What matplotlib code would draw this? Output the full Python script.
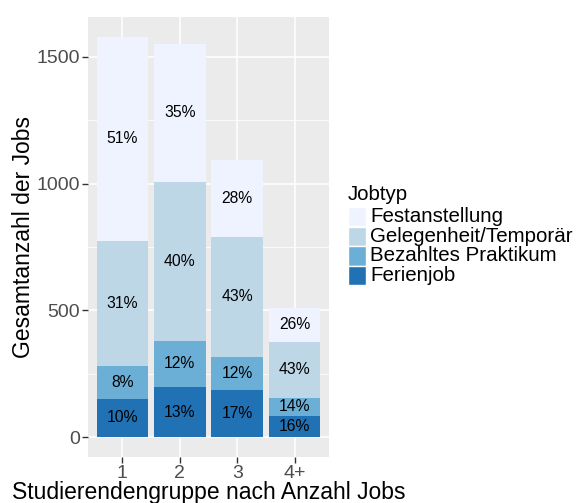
import matplotlib
matplotlib.use("Agg")
import matplotlib.pyplot as plt
from matplotlib.patches import Rectangle
import numpy as np

groups = ["1", "2", "3", "4+"]
job_types = ["Ferienjob", "Bezahltes Praktikum", "Gelegenheit/Temporär", "Festanstellung"]
ferienjob = [150, 197, 186, 83]
praktikum = [130, 183, 130, 71]
gelegenheit = [495, 627, 474, 221]
festanstellung = [803, 544, 302, 134]
colors = ["#2171B5", "#6BAED6", "#BDD7E7", "#EFF3FF"]

plt.rcParams["font.family"] = ["Liberation Sans", "DejaVu Sans"]

W, H = 579, 503
fig = plt.figure(figsize=(W / 100, H / 100), dpi=100)
ax = fig.add_axes([88 / W, 46 / H, 241 / W, 440 / H])
ax.set_facecolor("#EBEBEB")

series = [ferienjob, praktikum, gelegenheit, festanstellung]
x = np.arange(1, len(groups) + 1)
totals = np.sum(series, axis=0)
bottom = np.zeros(len(groups))
for vals, col in zip(series, colors):
    vals = np.array(vals, dtype=float)
    ax.bar(x, vals, bottom=bottom, width=0.9, color=col, linewidth=0, zorder=3)
    for xi, b, v, t in zip(x, bottom, vals, totals):
        ax.text(xi, b + v / 2, "{:.0f}%".format(100 * v / t), ha="center",
                va="center", fontsize=11.3, color="black", zorder=4)
    bottom += vals

ymax = totals.max()
ax.set_xlim(0.4, len(groups) + 0.6)
ax.set_ylim(-0.05 * ymax, 1.05 * ymax)
ax.set_xticks(x)
ax.set_xticklabels(groups)
ax.set_yticks([0, 500, 1000, 1500])
ax.set_yticks([250, 750, 1250], minor=True)
ax.grid(True, which="major", color="white", linewidth=1.1, zorder=0)
ax.grid(True, which="minor", axis="y", color="white", linewidth=0.55, zorder=0)
ax.set_axisbelow(True)
for s in ax.spines.values():
    s.set_visible(False)
ax.tick_params(which="major", length=4, width=1, color="#333333",
               labelsize=14, labelcolor="#4D4D4D", pad=2)
ax.tick_params(which="minor", length=0)

ax.set_xlabel("Studierendengruppe nach Anzahl Jobs", fontsize=16.5, labelpad=-1)
ax.set_ylabel("Gesamtanzahl der Jobs", fontsize=16.5, labelpad=1)

# legend drawn by hand, ggplot style
fig.text(348 / W, 1 - 195 / H, "Jobtyp", fontsize=14.8, ha="left", va="center")
key_top = 207
key_h = 19.5
for i, (lab, col) in enumerate(zip(job_types[::-1], colors[::-1])):
    y0 = key_top + i * key_h
    fig.add_artist(Rectangle((348 / W, 1 - (y0 + key_h) / H), 18 / W, key_h / H,
                             transform=fig.transFigure, facecolor=col,
                             edgecolor="white", linewidth=1))
    fig.text(370 / W, 1 - (y0 + key_h / 2) / H, lab, fontsize=14.8,
             ha="left", va="center")

fig.savefig("out.png", dpi=100)
